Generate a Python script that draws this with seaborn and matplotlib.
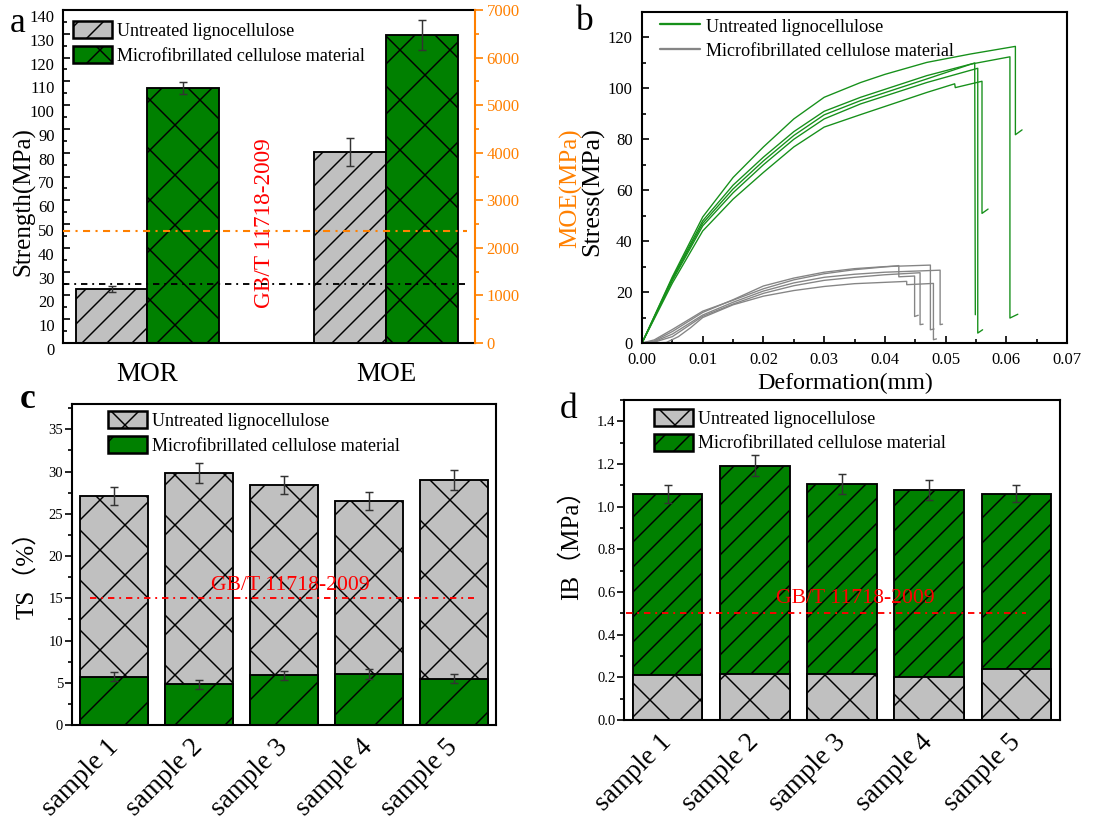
import pandas as pd
import seaborn as sns
import matplotlib.pyplot as plt
from matplotlib.patches import Patch
from matplotlib.lines import Line2D
from matplotlib.ticker import MultipleLocator, FormatStrFormatter
from matplotlib.transforms import blended_transform_factory

# ---------------- values ----------------
materials = ["Untreated lignocellulose", "Microfibrillated cellulose material"]

# a: bending properties (MOR on left axis, MOE on right axis)
props = ["MOR", "MOE"]
mor_mean = [22.7, 107.2]
mor_sd = [1.4, 2.6]
moe_mean = [4010, 6470]
moe_sd = [290, 320]
mor_limit = 24.8
moe_limit = 2360

# b: stress-deformation curves (5 specimens per material)
untreated_def = [
    [0, 0.005, 0.01, 0.015, 0.02, 0.025, 0.03, 0.036, 0.04, 0.0469, 0.0541, 0.0615, 0.0615, 0.0626],
    [0, 0.005, 0.01, 0.015, 0.02, 0.025, 0.03, 0.036, 0.0469, 0.0541, 0.0606, 0.0606, 0.0619],
    [0, 0.005, 0.01, 0.015, 0.02, 0.025, 0.03, 0.036, 0.0469, 0.0548, 0.0549],
    [0, 0.005, 0.01, 0.015, 0.02, 0.025, 0.03, 0.036, 0.0469, 0.0553, 0.0553, 0.0561],
    [0, 0.005, 0.01, 0.015, 0.02, 0.025, 0.03, 0.036, 0.0469, 0.0515, 0.0516, 0.056, 0.056, 0.057],
]
untreated_stress = [
    [0, 26.0, 49.5, 65.0, 77.0, 88.0, 96.5, 102.3, 105.5, 110.2, 113.5, 116.5, 81.8, 83.7],
    [0, 25.5, 48.0, 62.0, 73.0, 83.0, 91.0, 96.5, 105.0, 109.5, 112.4, 9.8, 11.3],
    [0, 25.0, 47.0, 60.5, 71.5, 81.5, 89.6, 95.2, 103.7, 110.0, 11.1],
    [0, 24.5, 46.0, 59.0, 70.0, 80.0, 88.0, 93.9, 102.3, 107.9, 3.9, 5.2],
    [0, 23.5, 44.0, 56.5, 67.0, 77.0, 84.8, 89.7, 98.4, 101.8, 100.3, 102.8, 50.9, 52.6],
]
mfc_def = [
    [0, 0.002, 0.005, 0.01, 0.015, 0.02, 0.025, 0.03, 0.035, 0.0423, 0.0423, 0.0449, 0.0449, 0.0455],
    [0, 0.002, 0.005, 0.01, 0.015, 0.02, 0.025, 0.03, 0.035, 0.04, 0.0475, 0.0475, 0.0481],
    [0, 0.002, 0.005, 0.01, 0.015, 0.02, 0.025, 0.03, 0.035, 0.04, 0.0491, 0.0491, 0.0495],
    [0, 0.002, 0.005, 0.01, 0.015, 0.02, 0.025, 0.03, 0.035, 0.04, 0.0458, 0.0458, 0.0463],
    [0.001, 0.004, 0.006, 0.008, 0.01, 0.015, 0.02, 0.025, 0.03, 0.035, 0.0436, 0.0436, 0.048, 0.048, 0.0485],
]
mfc_stress = [
    [0, 1.2, 5.3, 12.5, 16.8, 21.3, 24.8, 27.2, 28.8, 30.4, 26.0, 26.3, 10.4, 10.9],
    [0, 0.8, 4.5, 12.0, 17.0, 22.4, 25.5, 27.8, 29.2, 30.0, 30.6, 5.2, 5.5],
    [0, 0.5, 3.5, 11.0, 16.0, 20.4, 23.6, 25.8, 27.0, 27.8, 28.6, 7.2, 7.4],
    [0, 0.3, 2.5, 10.5, 15.3, 19.5, 22.5, 24.6, 25.8, 26.8, 27.6, 7.2, 7.4],
    [0, 0.2, 2.5, 6.0, 10.0, 15.0, 18.4, 20.6, 22.2, 23.3, 24.2, 22.9, 23.4, 1.3, 1.6],
]

# c: thickness swelling
samples = ["sample 1", "sample 2", "sample 3", "sample 4", "sample 5"]
ts_untreated = [27.1, 29.8, 28.4, 26.5, 29.0]
ts_untreated_sd = [1.05, 1.2, 1.1, 1.05, 1.2]
ts_mfc = [5.72, 4.85, 5.87, 6.07, 5.48]
ts_mfc_sd = [0.55, 0.53, 0.57, 0.6, 0.53]
ts_limit = 15

# d: internal bond
ib_untreated = [0.213, 0.217, 0.214, 0.200, 0.241]
ib_mfc = [1.059, 1.192, 1.106, 1.078, 1.061]
ib_mfc_sd = [0.043, 0.048, 0.045, 0.045, 0.040]
ib_limit = 0.5

# ---------------- style ----------------
GRAY = "#c0c0c0"
GREEN = "#008000"
ORANGE = "#ff8000"
LINE_GREEN = "#16901a"
LINE_GRAY = "#858585"
ERR = "#333333"
DASHDOT = (0, (3.4, 2.6, 1, 2.6))

sns.set_style("ticks", rc={"axes.edgecolor": "black", "text.color": "black",
                           "xtick.color": "black", "ytick.color": "black",
                           "axes.labelcolor": "black"})
plt.rcParams["font.family"] = ["Liberation Serif", "Noto Sans CJK SC"]
plt.rcParams["hatch.linewidth"] = 0.7
plt.rcParams["axes.linewidth"] = 1.0

W, H = 1105, 827
fig = plt.figure(figsize=(W / 150, H / 150), dpi=150)
fig.patch.set_facecolor("white")


def box(left, top, right, bottom):
    return [left / W, 1 - bottom / H, (right - left) / W, (bottom - top) / H]


ax_a = fig.add_axes(box(63, 10, 475, 343))
ax_b = fig.add_axes(box(642, 12, 1067, 343))
ax_c = fig.add_axes(box(72, 404, 496, 725))
ax_d = fig.add_axes(box(624, 400, 1060, 720))

bar_kw = dict(saturation=1, edgecolor="black", linewidth=0.9, errorbar=None)
err_kw = dict(fmt="none", ecolor=ERR, elinewidth=0.7, capsize=2, capthick=0.7)
leg_kw = dict(loc="upper left", frameon=False, fontsize=8.7, handlelength=2.15,
              handleheight=1.05, handletextpad=0.3, labelspacing=0.35,
              borderpad=0, borderaxespad=0)

# ---------------- a ----------------
ax2 = ax_a.twinx()
df_mor = pd.DataFrame({"property": "MOR", "material": materials, "value": mor_mean})
df_moe = pd.DataFrame({"property": "MOE", "material": materials, "value": moe_mean})
for axis, df, sd in [(ax_a, df_mor, mor_sd), (ax2, df_moe, moe_sd)]:
    sns.barplot(data=df, x="property", y="value", hue="material", order=props,
                hue_order=materials, palette=[GRAY, GREEN], width=0.6,
                legend=False, ax=axis, **bar_kw)
    bars = sorted(axis.patches, key=lambda p: p.get_x())
    for bar, hatch in zip(bars, ["//", "x"]):
        bar.set_hatch(hatch)
    axis.errorbar([b.get_x() + b.get_width() / 2 for b in bars],
                  [b.get_height() for b in bars], yerr=sd, **err_kw)

ax_a.set_xlim(-0.354, 1.373)
ax_a.set_ylim(0, 140)
ax_a.set_xticks([0, 1], props)
ax_a.set_xlabel("")
ax_a.yaxis.set_major_locator(MultipleLocator(10))
ax_a.yaxis.set_minor_locator(MultipleLocator(5))
ax2.yaxis.set_major_locator(MultipleLocator(1000))
ax2.yaxis.set_minor_locator(MultipleLocator(500))
ax_a.tick_params(axis="x", length=0, labelsize=13, pad=9)
ax_a.tick_params(axis="y", which="both", direction="in", labelsize=8, pad=4, width=0.8)
ax_a.tick_params(axis="y", which="major", length=3.5)
ax_a.tick_params(axis="y", which="minor", length=2)
ax2.tick_params(axis="y", which="both", direction="out", colors=ORANGE,
                labelsize=8, pad=1.5, width=0.8)
ax2.tick_params(axis="y", which="major", length=4)
ax2.tick_params(axis="y", which="minor", length=2)
ax_a.spines["right"].set_visible(False)
for s in ["left", "top", "bottom"]:
    ax2.spines[s].set_visible(False)
ax2.spines["right"].set_color(ORANGE)
for lbl in ax_a.get_yticklabels():
    lbl.set_verticalalignment("top")

# MOR limit drawn on the twin axes (so it sits above the MOE bars) in MOR units
mor_trans = blended_transform_factory(ax2.transAxes, ax_a.transData)
ax2.plot([0, 0.976], [mor_limit, mor_limit], color="black", lw=0.9, ls=DASHDOT,
         transform=mor_trans)
ax2.axhline(moe_limit, xmin=0, xmax=0.98, color=ORANGE, lw=1.0, ls=DASHDOT)
ax_a.text(0.49, 50.6, "GB/T 11718-2009", color="red", fontsize=11.2,
          rotation=90, ha="center", va="center")
ax2.set_ylim(0, 7000)

ax_a.set_ylabel("Strength(MPa)", fontsize=12, va="center", rotation_mode="default")
ax_a.yaxis.set_label_coords(-0.095, 0.426)
ax2.set_ylabel("MOE(MPa)", fontsize=12, color=ORANGE, va="center",
               rotation=90, rotation_mode="default")
ax2.yaxis.set_label_coords(1.233, 0.465)
ax2.legend(handles=[Patch(facecolor=GRAY, edgecolor="black", hatch="//", lw=1.2, label=materials[0]),
                    Patch(facecolor=GREEN, edgecolor="black", hatch="x", lw=1.2, label=materials[1])],
           bbox_to_anchor=(0.024, 0.967), **leg_kw)

# ---------------- b ----------------
rows = []
for mat, defs, stresses in [(materials[0], untreated_def, untreated_stress),
                            (materials[1], mfc_def, mfc_stress)]:
    for i, (xs, ys) in enumerate(zip(defs, stresses)):
        for x, y in zip(xs, ys):
            rows.append({"curve": f"{mat}-{i}", "material": mat,
                         "deformation": x, "stress": y})
df_b = pd.DataFrame(rows)
sns.lineplot(data=df_b, x="deformation", y="stress", hue="material", units="curve",
             estimator=None, sort=False, palette={materials[0]: LINE_GREEN,
                                                   materials[1]: LINE_GRAY},
             linewidth=0.65, legend=False, ax=ax_b)
ax_b.set_xlim(0, 0.07)
ax_b.set_ylim(0, 130)
ax_b.xaxis.set_major_locator(MultipleLocator(0.01))
ax_b.xaxis.set_minor_locator(MultipleLocator(0.005))
ax_b.xaxis.set_major_formatter(FormatStrFormatter("%.2f"))
ax_b.yaxis.set_major_locator(MultipleLocator(20))
ax_b.yaxis.set_minor_locator(MultipleLocator(10))
ax_b.tick_params(which="both", direction="in", labelsize=8, pad=4.5, width=0.8,
                 top=False, right=False)
ax_b.tick_params(which="major", length=3.5)
ax_b.tick_params(which="minor", length=2)
ax_b.set_xlabel("Deformation(mm)", fontsize=11.5, va="center")
ax_b.xaxis.set_label_coords(0.478, -0.121)
ax_b.set_ylabel("Stress(MPa)", fontsize=12.5, va="center", rotation_mode="default")
ax_b.yaxis.set_label_coords(-0.117, 0.457)
ax_b.legend(handles=[Line2D([], [], color=LINE_GREEN, lw=1.1, label=materials[0]),
                     Line2D([], [], color=LINE_GRAY, lw=1.1, label=materials[1])],
            bbox_to_anchor=(0.043, 0.985), **{**leg_kw, "handlelength": 2.2})

# ---------------- c ----------------
df_c = pd.DataFrame({"sample": samples, "untreated": ts_untreated, "mfc": ts_mfc})
sns.barplot(data=df_c, x="sample", y="untreated", color=GRAY, width=0.8, ax=ax_c, **bar_kw)
sns.barplot(data=df_c, x="sample", y="mfc", color=GREEN, width=0.8, ax=ax_c, **bar_kw)
gray_bars, green_bars = ax_c.patches[:5], ax_c.patches[5:10]
for bars, hatch, sd in [(gray_bars, "x", ts_untreated_sd), (green_bars, "/", ts_mfc_sd)]:
    for bar in bars:
        bar.set_hatch(hatch)
    ax_c.errorbar([b.get_x() + b.get_width() / 2 for b in bars],
                  [b.get_height() for b in bars], yerr=sd, **err_kw)
ax_c.axhline(ts_limit, xmin=0.043, xmax=0.948, color="red", lw=0.9, ls=DASHDOT)
ax_c.text(2.07, 16.5, "GB/T 11718-2009", color="red", fontsize=10.4,
          ha="center", va="center")
ax_c.set_ylim(0, 38)
ax_c.yaxis.set_major_locator(MultipleLocator(5))
ax_c.yaxis.set_minor_locator(MultipleLocator(2.5))
ax_c.set_ylabel("TS（%）", fontsize=12, va="center", rotation_mode="default")
ax_c.yaxis.set_label_coords(-0.108, 0.486)
ax_c.legend(handles=[Patch(facecolor=GRAY, edgecolor="black", hatch="x", lw=1.2, label=materials[0]),
                     Patch(facecolor=GREEN, edgecolor="black", hatch="/", lw=1.2, label=materials[1])],
            bbox_to_anchor=(0.085, 0.978), **leg_kw)

# ---------------- d ----------------
df_d = pd.DataFrame({"sample": samples, "untreated": ib_untreated, "mfc": ib_mfc})
sns.barplot(data=df_d, x="sample", y="mfc", color=GREEN, width=0.8, ax=ax_d, **bar_kw)
sns.barplot(data=df_d, x="sample", y="untreated", color=GRAY, width=0.8, ax=ax_d, **bar_kw)
green_bars, gray_bars = ax_d.patches[:5], ax_d.patches[5:10]
for bar in green_bars:
    bar.set_hatch("//")
for bar in gray_bars:
    bar.set_hatch("x")
ax_d.errorbar([b.get_x() + b.get_width() / 2 for b in green_bars],
              [b.get_height() for b in green_bars], yerr=ib_mfc_sd, **err_kw)
ax_d.axhline(ib_limit, xmin=0.004, xmax=0.923, color="red", lw=0.9, ls=DASHDOT)
ax_d.text(2.15, 0.568, "GB/T 11718-2009", color="red", fontsize=10.4,
          ha="center", va="center")
ax_d.set_ylim(0, 1.5)
ax_d.yaxis.set_major_locator(MultipleLocator(0.2))
ax_d.yaxis.set_minor_locator(MultipleLocator(0.1))
ax_d.yaxis.set_major_formatter(FormatStrFormatter("%.1f"))
ax_d.set_ylabel("IB（MPa）", fontsize=12, va="center", rotation_mode="default")
ax_d.yaxis.set_label_coords(-0.122, 0.566)
ax_d.legend(handles=[Patch(facecolor=GRAY, edgecolor="black", hatch="x", lw=1.2, label=materials[0]),
                     Patch(facecolor=GREEN, edgecolor="black", hatch="//", lw=1.2, label=materials[1])],
            bbox_to_anchor=(0.069, 0.972), **leg_kw)

for ax in (ax_c, ax_d):
    ax.set_xlim(-0.5, 4.5)
    ax.set_xticks(range(len(samples)))
    ax.set_xticklabels(samples, rotation=45, ha="right", va="center",
                       rotation_mode="anchor", fontsize=13)
    ax.set_xlabel("")
    ax.tick_params(axis="x", length=0, pad=9)
    ax.tick_params(axis="y", which="both", direction="out", labelsize=7, pad=1, width=0.8)
    ax.tick_params(axis="y", which="major", length=3.2)
    ax.tick_params(axis="y", which="minor", length=2)

# panel letters
for letter, (px, py), weight in [("a", (17.5, 23), "normal"), ("b", (585, 22), "normal"),
                                 ("c", (28, 399), "bold"), ("d", (569, 410), "normal")]:
    fig.text(px / W, 1 - py / H, letter, fontsize=17, fontweight=weight,
             ha="center", va="center")

fig.savefig("out.png", dpi=150)
